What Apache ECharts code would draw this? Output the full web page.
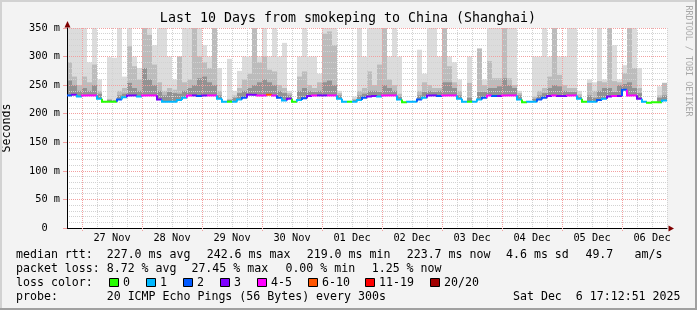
<!DOCTYPE html>
<html>
<head>
<meta charset="UTF-8">
<title>Last 10 Days from smokeping to China (Shanghai)</title>
<script type="text/javascript" src="https://cdn.jsdelivr.net/npm/echarts@6.0.0/dist/echarts.min.js"></script>
<style>
  html, body { margin: 0; padding: 0; background: #f3f3f3; }
  #main { width: 697px; height: 310px; }
</style>
</head>
<body>
<div id="main"></div>
<script type="text/javascript">
// time axis is in hours counted from 26 Nov 00:00, one bucket = 2 hours
var startHour = 18;
var endHour = 258;
var stepHours = 2;
var dayLines = [24, 48, 72, 96, 120, 144, 168, 192, 216, 240];
var dayLabels = ['26 Nov', '27 Nov', '28 Nov', '29 Nov', '30 Nov', '01 Dec', '02 Dec', '03 Dec', '04 Dec', '05 Dec', '06 Dec'];

// median rtt in ms, one value per bucket
var medianRtt = [
  232,233,230,232,232,232,226,221,221,221,225,229,
  232,232,230,232,232,232,225,221,221,221,224,228,
  232,232,231,232,232,232,226,221,221,221,225,228,
  233,233,232,232,233,232,228,223,226,221,224,227,
  231,232,232,232,232,232,226,221,221,221,224,228,
  230,231,230,232,232,232,225,220,221,221,225,228,
  232,232,231,232,232,232,226,221,221,221,225,228,
  232,231,231,232,232,232,225,220,221,221,225,228,
  231,232,231,231,232,232,226,221,221,221,224,226,
  230,231,231,242,232,232,226,221,219,220,220,223
];
// loss class index (into lossLabels) per bucket
var lossIdx = [
  2,3,1,4,4,4,1,0,0,0,2,1,
  3,3,1,4,4,4,3,1,1,1,1,1,
  4,3,2,3,4,4,1,1,0,1,1,2,
  3,3,4,4,5,4,2,1,3,0,1,2,
  3,4,3,3,4,4,1,1,0,1,1,2,
  3,3,1,4,4,4,1,0,1,1,2,1,
  3,3,2,4,4,4,1,1,0,1,1,2,
  4,2,3,4,4,4,1,0,1,1,2,2,
  3,4,3,3,4,4,1,0,1,1,2,1,
  3,4,3,2,4,4,3,1,0,0,0,1
];
// smoke tops (ms): outer (light), middle, inner (dark)
var smokeOuter = [
  350,350,350,350,290,350,260,221,299,298,350,265,
  350,300,280,350,350,320,350,350,300,260,300,350,
  350,350,350,320,300,350,280,221,296,240,275,300,
  300,350,300,350,300,350,300,324,240,221,300,350,
  300,300,270,350,350,350,240,221,221,230,350,300,
  350,350,350,350,300,350,300,220,221,221,312,270,
  350,350,300,350,300,290,260,221,300,221,314,260,
  350,350,350,350,350,350,240,220,221,300,300,350,
  300,350,300,300,350,350,240,221,260,255,350,260,
  350,320,260,285,350,350,280,221,219,220,248,254
];
var smokeMid = [
  290,265,250,265,255,286,240,221,226,224,240,245,
  318,283,260,350,338,286,255,240,245,242,300,255,
  260,350,300,290,280,350,240,221,226,232,245,260,
  270,350,290,300,277,274,250,245,236,221,265,274,
  250,245,255,340,344,320,236,221,221,226,240,245,
  274,250,286,350,260,250,235,220,221,221,240,255,
  250,245,245,350,283,255,240,221,254,221,314,250,
  292,262,262,350,262,250,236,220,221,230,240,245,
  265,350,268,250,245,245,234,221,254,240,257,255,
  350,257,255,271,350,280,245,221,219,220,232,254
];
var smokeInner = [
  258,250,240,245,240,250,235,221,224,223,232,235,
  254,245,240,280,260,250,240,232,238,236,235,240,
  245,250,262,265,255,250,232,221,224,228,236,240,
  245,250,255,260,255,250,240,236,232,221,240,245,
  240,238,240,255,258,250,232,221,221,224,232,235,
  240,240,238,250,245,240,230,220,221,221,232,238,
  240,238,240,255,255,245,232,221,228,221,238,238,
  245,245,248,262,250,245,232,220,221,226,232,236,
  245,250,248,240,238,238,230,221,232,228,240,245,
  245,238,250,252,255,245,236,221,219,220,228,232
];

var lossLabels = ['0', '1', '2', '3', '4-5', '6-10', '11-19', '20/20'];
var lossColors = ['#26ff00', '#00b8ff', '#0059ff', '#7e00ff', '#ff00ff', '#ff5500', '#ff0000', '#a10000'];
var rttStats = ['227.0 ms avg', '242.6 ms max', '219.0 ms min', '223.7 ms now', '4.6 ms sd', '49.7', 'am/s'];
var lossStats = ['8.72 % avg', '27.45 % max', '0.00 % min', '1.25 % now'];
var probeText = '20 ICMP Echo Pings (56 Bytes) every 300s';
var stampText = 'Sat Dec  6 17:12:51 2025';

var MONO = "'DejaVu Sans Mono', monospace";
var shades = ['#dcdcdc', '#bcbcbc', '#929292'];

var rows = medianRtt.map(function (m, i) {
  return [startHour + i * stepHours, m, smokeOuter[i], smokeMid[i], smokeInner[i], lossIdx[i], i ? medianRtt[i - 1] : m];
});

function smokeItem(params, api) {
  var t0 = api.value(0), t1 = t0 + stepHours, med = api.value(1);
  var kids = [];
  [2, 3, 4].forEach(function (d, k) {
    var top = api.value(d);
    if (top <= med) return;
    var a = api.coord([t0, top]), b = api.coord([t1, med]);
    kids.push({ type: 'rect', shape: { x: a[0], y: a[1], width: b[0] - a[0], height: b[1] - a[1] }, style: { fill: shades[k] } });
  });
  return { type: 'group', children: kids };
}

function medianItem(params, api) {
  var t0 = api.value(0), t1 = t0 + stepHours;
  var p0 = api.coord([t0, api.value(6)]);
  var p1 = api.coord([t0, api.value(1)]);
  var p2 = api.coord([t1, api.value(1)]);
  return {
    type: 'polyline',
    shape: { points: [p0, p1, p2] },
    style: { stroke: lossColors[api.value(5)], lineWidth: 2, fill: null }
  };
}

function dayLineItem(params, api) {
  var top = api.coord([api.value(0), 350]);
  var bot = api.coord([api.value(0), 0]);
  var x = Math.round(top[0]) + 0.5;
  return { type: 'line', shape: { x1: x, y1: top[1], x2: x, y2: bot[1] + 3 }, style: { stroke: '#f2a0a0', lineWidth: 1, lineDash: [1, 1] } };
}

function txt(x, y, s, align, font, color) {
  return { type: 'text', x: x, y: y, silent: true, z: 10,
    style: { text: s, font: font || ('11.6px ' + MONO), fill: color || '#000', align: align || 'left', verticalAlign: 'middle' } };
}

var graphics = [];
// frame
graphics.push({ type: 'rect', z: 10, shape: { x: 0, y: 0, width: 697, height: 2 }, style: { fill: '#d2d2d2' } });
graphics.push({ type: 'rect', z: 10, shape: { x: 0, y: 0, width: 2, height: 310 }, style: { fill: '#d2d2d2' } });
graphics.push({ type: 'rect', z: 10, shape: { x: 695, y: 0, width: 2, height: 310 }, style: { fill: '#a0a0a0' } });
graphics.push({ type: 'rect', z: 10, shape: { x: 0, y: 308, width: 697, height: 2 }, style: { fill: '#a0a0a0' } });
// title and watermark
graphics.push(txt(348, 19, 'Last 10 Days from smokeping to China (Shanghai)', 'center', '13.3px ' + MONO));
var wm = txt(688, 61, 'RRDTOOL / TOBI OETIKER', 'center', '8.4px ' + MONO, '#a8a8a8');
wm.rotation = -Math.PI / 2;
graphics.push(wm);
// axis arrows
graphics.push({ type: 'polygon', z: 10, shape: { points: [[64.5, 27.5], [70.5, 27.5], [67.5, 21]] }, style: { fill: '#7f0000' } });
graphics.push({ type: 'polygon', z: 10, shape: { points: [[668.5, 225.5], [668.5, 231.5], [674, 228.5]] }, style: { fill: '#7f0000' } });

// legend rows
var rttCols = [106.7, 206.7, 306.7, 406.7, 506, 585.4, 634.5];
var lossCols = [106.7, 191.4, 285.4, 371.7];
graphics.push(txt(16, 254.5, 'median rtt:'));
rttStats.forEach(function (s, i) { graphics.push(txt(rttCols[i], 254.5, s)); });
graphics.push(txt(16, 268.5, 'packet loss:'));
lossStats.forEach(function (s, i) { graphics.push(txt(lossCols[i], 268.5, s)); });
graphics.push(txt(16, 282.5, 'loss color:'));
var bx = 109;
lossLabels.forEach(function (lab, i) {
  var x = Math.round(bx) + 0.5;
  graphics.push({ type: 'rect', z: 10, shape: { x: x, y: 278.5, width: 9, height: 8 }, style: { fill: lossColors[i], stroke: '#000', lineWidth: 1 } });
  graphics.push(txt(x + 13.5, 282.5, lab));
  bx += 30 + 6.95 * lab.length;
});
graphics.push(txt(16, 296.5, 'probe:'));
graphics.push(txt(106.7, 296.5, probeText));
graphics.push(txt(680.5, 296.5, stampText, 'right'));

var myChart = echarts.init(document.getElementById('main'));
var option = {
  animation: false,
  backgroundColor: '#f3f3f3',
  grid: { left: 67, top: 28, width: 600, height: 200, show: true, backgroundColor: '#ffffff', borderWidth: 0, outerBoundsMode: 'none' },
  xAxis: {
    type: 'value', min: startHour, max: endHour, interval: 6, z: 2,
    axisLine: { show: true, onZero: false, lineStyle: { color: '#000', width: 1 } },
    axisTick: { show: false },
    axisLabel: {
      margin: 5, fontFamily: MONO, fontSize: 10.3, color: '#000',
      formatter: function (v) { return v % 24 === 12 ? dayLabels[Math.floor(v / 24)] : ''; }
    },
    splitLine: { show: true, lineStyle: { color: '#d2d2d2', width: 1, type: [1, 1] } }
  },
  yAxis: {
    type: 'value', min: 0, max: 350, interval: 50, z: 2,
    name: 'Seconds', nameLocation: 'middle', nameGap: 54, nameRotate: 90,
    nameTextStyle: { fontFamily: MONO, fontSize: 11.6, color: '#000' },
    axisLine: { show: true, lineStyle: { color: '#000', width: 1 } },
    axisTick: { show: true, length: 4, lineStyle: { color: '#f2a0a0' } },
    axisLabel: {
      margin: 7, fontFamily: MONO, fontSize: 10.3, color: '#000',
      formatter: function (v) { return v === 0 ? '0  ' : v + ' m'; }
    },
    splitLine: { show: true, lineStyle: { color: '#f2a0a0', width: 1, type: [1, 1] } },
    minorTick: { show: false, splitNumber: 5 },
    minorSplitLine: { show: true, lineStyle: { color: '#d2d2d2', width: 1, type: [1, 1] } }
  },
  graphic: { elements: graphics },
  series: [
    { type: 'custom', name: 'smoke', z: 1, silent: true, renderItem: smokeItem, encode: { x: 0, y: 1 }, data: rows },
    { type: 'custom', name: 'days', z: 3, silent: true, renderItem: dayLineItem, encode: { x: 0, y: 1 },
      data: dayLines.map(function (h) { return [h, 0]; }) },
    { type: 'custom', name: 'median', z: 4, silent: true, renderItem: medianItem, encode: { x: 0, y: 1 }, data: rows }
  ]
};
myChart.setOption(option);
</script>
</body>
</html>
